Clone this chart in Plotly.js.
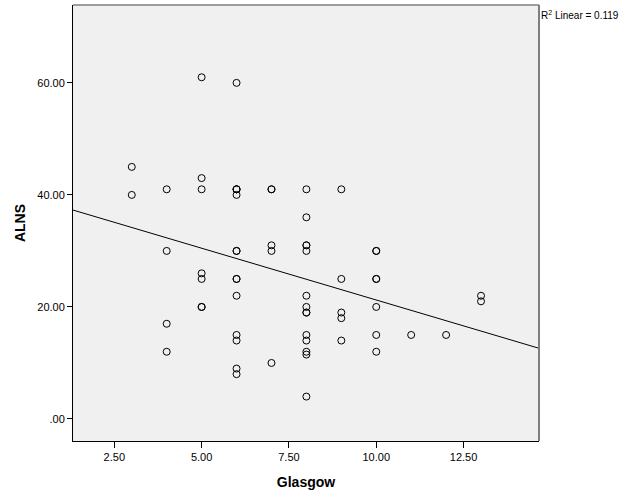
<!DOCTYPE html>
<html><head><meta charset="utf-8">
<script src="https://cdn.plot.ly/plotly-3.0.1.min.js"></script>
<style>body{margin:0;background:#fff}#c{width:626px;height:501px}</style>
</head><body><div id="c"></div>
<script>
const glasgow = [3,3, 4,4,4,4, 5,5,5,5,5,5,5, 6,6,6,6,6,6,6,6,6,6,6,6,6,6, 7,7,7,7,7, 8,8,8,8,8,8,8,8,8,8,8,8,8,8, 9,9,9,9,9, 10,10,10,10,10,10,10, 11, 12, 13,13];
const alns = [45,40, 41,30,17,12, 61,43,41,26,25,20,20, 60,41,41,41,40,30,30,25,25,22,15,14,9,8, 41,41,31,30,10, 41,36,31,31,30,22,20,19,19,15,14,12,11.5,4, 41,25,19,18,14, 30,30,25,25,20,15,12, 15, 15, 22,21];
const xTickVals = [2.5,5,7.5,10,12.5];
const xTickText = ["2.50","5.00","7.50","10.00","12.50"];
const yTickVals = [0,20,40,60];
const yTickText = [".00","20.00","40.00","60.00"];
const xRange = [1.317, 14.66];
const yRange = [-3.93, 73.9];
const r2Label = "R<sup>2</sup> Linear = 0.119";

// least squares fit
const n = glasgow.length;
const mx = glasgow.reduce((a,b)=>a+b,0)/n, my = alns.reduce((a,b)=>a+b,0)/n;
let sxy=0, sxx=0;
for(let i=0;i<n;i++){sxy+=(glasgow[i]-mx)*(alns[i]-my);sxx+=(glasgow[i]-mx)**2;}
const slope = sxy/sxx, icpt = my - slope*mx;

const font = {family:"Liberation Sans, Arial, sans-serif", color:"#000", size:11};
Plotly.newPlot("c", [
 {x: xRange, y: xRange.map(v=>icpt+slope*v), mode:"lines", line:{color:"#000",width:1}, hoverinfo:"skip"},
 {x: glasgow, y: alns, mode:"markers", marker:{symbol:"circle-open", size:7, color:"#000", line:{width:1,color:"#000"}}}
], {
 width:626, height:501, showlegend:false,
 paper_bgcolor:"#fff", plot_bgcolor:"#f0f0f0",
 margin:{l:73, r:87, t:5, b:60},
 font: font,
 xaxis:{range:xRange, tickvals:xTickVals, ticktext:xTickText, ticks:"outside", ticklen:6, tickcolor:"#000",
   showgrid:false, zeroline:false, showline:true, linecolor:"#000", linewidth:1,
   title:{text:"<b>Glasgow</b>", font:{size:14, family:"Liberation Sans, Arial, sans-serif"}, standoff:14}},
 yaxis:{range:yRange, tickvals:yTickVals, ticktext:yTickText, ticks:"outside", ticklen:5, tickcolor:"#000",
   showgrid:false, zeroline:false, showline:true, linecolor:"#000", linewidth:1,
   title:{text:"<b>ALNS</b>", font:{size:14, family:"Liberation Sans, Arial, sans-serif"}, standoff:8}},
 shapes:[
   {type:"line", xref:"paper", yref:"paper", x0:0, x1:1, y0:1, y1:1, line:{color:"#7f7f7f", width:1.5}},
   {type:"line", xref:"paper", yref:"paper", x0:1, x1:1, y0:0, y1:1, line:{color:"#7f7f7f", width:2}}
 ],
 annotations:[{xref:"paper", yref:"paper", x:1, y:1, xanchor:"left", yanchor:"top", xshift:0, yshift:-2, text:r2Label, showarrow:false, font:{size:10}}]
}, {staticPlot:true});
</script></body></html>
